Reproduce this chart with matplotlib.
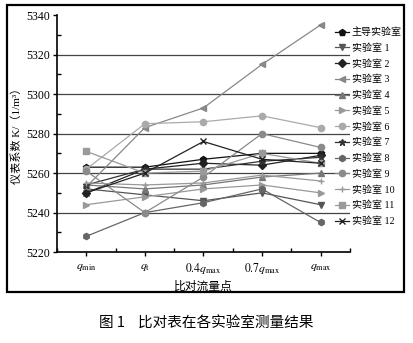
import matplotlib
matplotlib.use("Agg")
import matplotlib.pyplot as plt
from matplotlib.patches import Rectangle
from matplotlib.ticker import MultipleLocator

plt.rcParams["font.family"] = ["Liberation Serif", "Noto Sans CJK SC", "DejaVu Sans"]
plt.rcParams["mathtext.fontset"] = "stix"

# flow points
flow_points = [r"$q_{\mathrm{min}}$", r"$q_{\mathrm{t}}$", r"$0.4q_{\mathrm{max}}$",
               r"$0.7q_{\mathrm{max}}$", r"$q_{\mathrm{max}}$"]

labs = ["主导实验室", "实验室 1", "实验室 2", "实验室 3", "实验室 4", "实验室 5", "实验室 6",
        "实验室 7", "实验室 8", "实验室 9", "实验室 10", "实验室 11", "实验室 12"]

lead = [5263, 5263, 5267, 5270, 5270]
lab1 = [5252, 5249, 5246, 5250, 5244]
lab2 = [5250, 5262, 5265, 5264, 5269]
lab3 = [5253, 5283, 5293, 5315, 5335]
lab4 = [5254, 5252, 5254, 5258, 5260]
lab5 = [5244, 5248, 5252, 5254, 5250]
lab6 = [5262, 5285, 5286, 5289, 5283]
lab7 = [5254, 5262, 5262, 5266, 5268]
lab8 = [5228, 5240, 5245, 5252, 5235]
lab9 = [5261, 5240, 5258, 5280, 5273]
lab10 = [5255, 5254, 5255, 5259, 5256]
lab11 = [5271, 5260, 5261, 5270, 5265]
lab12 = [5250, 5260, 5276, 5267, 5265]

series = [lead, lab1, lab2, lab3, lab4, lab5, lab6, lab7, lab8, lab9, lab10, lab11, lab12]
markers = ["p", "v", "D", "<", "^", ">", "o", "*", "h", "o", "+", "s", "x"]
colors = ["#111111", "#555555", "#222222", "#888888", "#777777", "#999999", "#aaaaaa",
          "#333333", "#666666", "#8a8a8a", "#999999", "#9a9a9a", "#222222"]

fig = plt.figure(figsize=(4.13, 3.43), dpi=100)
ax = fig.add_axes([0.138, 0.265, 0.709, 0.691])

for yv in [5240, 5260, 5280, 5300, 5320]:
    ax.axhline(yv, color="#444444", lw=0.9, zorder=1)

x = list(range(len(flow_points)))
for vals, lab, m, c in zip(series, labs, markers, colors):
    ax.plot(x, vals, color=c, marker=m, markersize=4.5, lw=0.9, label=lab, zorder=3)

ax.set_xlim(-0.5, 4.5)
ax.set_ylim(5220, 5340)
ax.set_xticks(x)
ax.set_xticklabels(flow_points, fontsize=9)
ax.xaxis.set_minor_locator(MultipleLocator(0.5))
ax.yaxis.set_major_locator(MultipleLocator(20))
ax.yaxis.set_minor_locator(MultipleLocator(10))
ax.tick_params(axis="both", which="major", direction="out", length=3, width=1, labelsize=8.5)
ax.tick_params(axis="y", which="major", pad=2)
ax.tick_params(axis="both", which="minor", direction="in", length=3, width=1)
for s in ["top", "right"]:
    ax.spines[s].set_visible(False)
for s in ["left", "bottom"]:
    ax.spines[s].set_linewidth(1.2)

ax.set_ylabel("仪表系数 K/（1/m³）", fontsize=8)
ax.yaxis.set_label_coords(-0.12, 0.5)
ax.set_xlabel("比对流量点", fontsize=8.5, labelpad=3)

ax.legend(loc="upper left", bbox_to_anchor=(0.935, 0.965), frameon=False, fontsize=7.2,
          handlelength=1.4, handletextpad=0.3, labelspacing=0.62, borderaxespad=0)

fig.patches.append(Rectangle((0.018, 0.148), 0.96, 0.837, transform=fig.transFigure,
                             fill=False, edgecolor="black", lw=1.6))
fig.text(0.5, 0.045, "图 1    比对表在各实验室测量结果", ha="center", fontsize=10.5,
         family=["Noto Sans CJK SC", "DejaVu Sans"])

fig.savefig("out.png", dpi=100, facecolor="white")
